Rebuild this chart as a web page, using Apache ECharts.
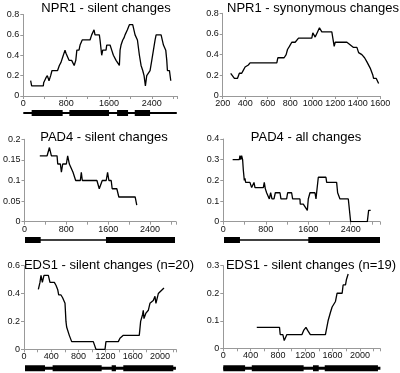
<!DOCTYPE html>
<html>
<head>
<meta charset="utf-8">
<script src="https://cdn.jsdelivr.net/npm/echarts@6/dist/echarts.min.js"></script>
<style>
  html, body { margin: 0; padding: 0; background: #fff; }
  #chart { width: 400px; height: 373px; }
</style>
</head>
<body>
<div id="chart"></div>
<script>
// sliding-window values
var npr1SilentX = [137,156,374,380,424,449,480,511,536,640,673,704,735,779,797,854,903,950,980,1000,1040,1060,1100,1246,1277,1321,1339,1420,1433,1464,1483,1545,1558,1620,1651,1682,1732,1794,1807,1825,1857,1880,1900,1944,1981,2043,2087,2131,2168,2199,2230,2255,2280,2305,2367,2399,2430,2461,2480,2573,2617,2660,2679,2691,2729,2754];
var npr1SilentY = [0.15,0.10,0.10,0.13,0.18,0.20,0.15,0.20,0.25,0.25,0.30,0.33,0.38,0.45,0.42,0.35,0.35,0.30,0.35,0.45,0.45,0.50,0.55,0.55,0.60,0.65,0.60,0.60,0.55,0.40,0.45,0.45,0.50,0.50,0.45,0.40,0.35,0.30,0.45,0.50,0.55,0.57,0.60,0.65,0.70,0.70,0.60,0.55,0.40,0.30,0.25,0.20,0.10,0.20,0.25,0.35,0.45,0.55,0.60,0.60,0.50,0.45,0.35,0.25,0.25,0.15];

var npr1SynX = [271,304,331,348,369,384,399,428,443,681,690,746,764,776,793,814,844,874,992,1001,1022,1043,1060,1081,1170,1179,1191,1200,1304,1363,1393,1408,1437,1461,1482,1511,1535,1541,1565,1586];
var npr1SynY = [0.22,0.17,0.17,0.22,0.22,0.25,0.28,0.30,0.32,0.32,0.37,0.37,0.40,0.45,0.48,0.52,0.52,0.56,0.56,0.61,0.57,0.62,0.66,0.62,0.62,0.56,0.48,0.52,0.52,0.47,0.47,0.42,0.40,0.37,0.33,0.27,0.20,0.17,0.17,0.12];

var pad4SilentX = [292,432,476,514,622,635,686,705,730,800,825,857,895,927,952,978,1067,1086,1105,1384,1429,1467,1486,1562,1588,1613,1657,1676,1765,1803,2115,2146];
var pad4SilentY = [0.16,0.16,0.18,0.16,0.16,0.14,0.14,0.12,0.14,0.14,0.16,0.14,0.14,0.12,0.12,0.10,0.10,0.12,0.10,0.10,0.08,0.08,0.10,0.10,0.12,0.10,0.10,0.08,0.08,0.06,0.06,0.04];

var pad4AllX = [176,301,314,330,345,364,377,396,408,421,502,534,565,578,597,754,772,791,816,848,867,892,917,955,980,1068,1086,1193,1212,1287,1306,1444,1450,1507,1583,1601,1633,1727,1746,1758,1790,1934,1947,2135,2154,2198,2355,2399,2713,2738,2776];
var pad4AllY = [0.30,0.30,0.32,0.30,0.32,0.30,0.25,0.20,0.21,0.19,0.19,0.165,0.165,0.19,0.165,0.165,0.19,0.16,0.14,0.14,0.11,0.14,0.11,0.11,0.14,0.14,0.11,0.11,0.14,0.14,0.11,0.11,0.085,0.085,0.055,0.11,0.14,0.14,0.11,0.14,0.215,0.215,0.19,0.19,0.14,0.11,0.11,0,0,0.055,0.055];

var eds1n20X = [211,235,250,270,294,358,382,446,470,495,510,544,568,603,617,627,652,666,701,1019,1058,1191,1205,1387,1411,1460,1695,1715,1744,1754,1764,1793,1828,1852,1901,1926,1940,1975,2058];
var eds1n20Y = [0.43,0.48,0.53,0.48,0.53,0.53,0.48,0.48,0.46,0.43,0.39,0.39,0.37,0.33,0.20,0.16,0.15,0.10,0.055,0.055,0,0,0.055,0.055,0.08,0.10,0.10,0.20,0.25,0.28,0.22,0.26,0.28,0.33,0.35,0.38,0.33,0.40,0.44];

var eds1n19X = [490,823,833,872,892,921,931,1152,1176,1210,1235,1274,1495,1534,1568,1593,1617,1642,1666,1740,1754,1789,1803,1828];
var eds1n19Y = [0.076,0.076,0.05,0.05,0.028,0.028,0.05,0.05,0.065,0.076,0.065,0.05,0.05,0.10,0.13,0.15,0.15,0.17,0.20,0.20,0.23,0.23,0.25,0.27];

// gene models: exon [start, end] and the full span
var npr1Exons = [[156,735],[860,1601],[1751,1956],[2081,2367]];
var npr1Span = [0, 2866];
var pad4ExonsA = [[19,318],[1562,2877]];
var pad4SpanA = [19, 2877];
var pad4ExonsB = [[13,314],[1601,2952]];
var pad4SpanB = [13, 2952];
var eds1ExonsA = [[15,309],[421,1142],[1289,1352],[1460,2195]];
var eds1SpanA = [15, 2234];
var eds1ExonsB = [[0,319],[417,1176],[1313,1397],[1485,2264]];
var eds1SpanB = [0, 2300];

var titles = ["NPR1 - silent changes", "NPR1 - synonymous changes", "PAD4 - silent changes",
  "PAD4 - all changes", "EDS1 - silent changes (n=20)", "EDS1 - silent changes (n=19)"];

var FONT = '"Liberation Sans", Arial, sans-serif';
var chart = echarts.init(document.getElementById("chart"));

function pairs(xs, ys) {
  return xs.map(function (x, i) { return [x, ys[i]]; });
}

// plot boxes: left, top, width, height, x range, x tick step, label step, y max, y step
var panels = [
  { l: 23.3, t: 14.5, w: 153.7, h: 81.5, xmin: 0, xmax: 2870, xi: 400, li: 800, ymax: 0.8, yi: 0.2, data: pairs(npr1SilentX, npr1SilentY), title: [106, 8], gene: [npr1Exons, npr1Span, 113, 2] },
  { l: 222.7, t: 13.3, w: 157.5, h: 82.7, xmin: 200, xmax: 1600, xi: 200, li: 200, ymax: 0.8, yi: 0.2, data: pairs(npr1SynX, npr1SynY), title: [313, 8] },
  { l: 24, t: 139.3, w: 152, h: 82.4, xmin: 0, xmax: 2896, xi: 400, li: 800, ymax: 0.2, yi: 0.05, data: pairs(pad4SilentX, pad4SilentY), title: [104, 137], gene: [pad4ExonsA, pad4SpanA, 240, 1.5] },
  { l: 223.3, t: 139, w: 156.7, h: 82.7, xmin: 0, xmax: 2952, xi: 400, li: 800, ymax: 0.4, yi: 0.1, data: pairs(pad4AllX, pad4AllY), title: [306, 137], gene: [pad4ExonsB, pad4SpanB, 240, 1.5] },
  { l: 24, t: 265.7, w: 152, h: 83.6, xmin: 0, xmax: 2235, xi: 200, li: 400, ymax: 0.6, yi: 0.2, data: pairs(eds1n20X, eds1n20Y), title: [109, 265], gene: [eds1ExonsA, eds1SpanA, 368.5, 3] },
  { l: 223.3, t: 265.7, w: 156.7, h: 82.6, xmin: 0, xmax: 2294, xi: 200, li: 400, ymax: 0.3, yi: 0.1, data: pairs(eds1n19X, eds1n19Y), title: [311, 265], gene: [eds1ExonsB, eds1SpanB, 368.5, 3] }
];

var grid = [], xAxis = [], yAxis = [], series = [], graphic = [];
var axisColor = "#999";

panels.forEach(function (p, i) {
  var gi = grid.length;
  grid.push({ left: p.l, top: p.t, width: p.w, height: p.h });
  xAxis.push({
    type: "value", gridIndex: gi, min: p.xmin, max: p.xmax, interval: p.xi,
    splitLine: { show: false },
    axisLine: { lineStyle: { color: axisColor } },
    axisTick: { length: 3, lineStyle: { color: axisColor } },
    axisLabel: {
      margin: 3, fontSize: 9, fontFamily: FONT, color: "#111",
      formatter: function (v) { return (v % p.li === 0) ? String(v) : ""; }
    }
  });
  yAxis.push({
    type: "value", gridIndex: gi, min: 0, max: p.ymax, interval: p.yi,
    splitLine: { show: false },
    axisLine: { show: true, lineStyle: { color: axisColor } },
    axisTick: { show: true, length: 3, lineStyle: { color: axisColor } },
    axisLabel: { margin: 4, fontSize: 9, fontFamily: FONT, color: "#111" }
  });
  series.push({
    type: "line", xAxisIndex: gi, yAxisIndex: gi, data: p.data,
    showSymbol: false, symbol: "none", animation: false,
    lineStyle: { color: "#000", width: 1.3 }
  });
  graphic.push({
    type: "text", x: p.title[0], y: p.title[1],
    style: { text: titles[i], fill: "#000", font: "13px " + FONT, align: "center", verticalAlign: "middle" }
  });

  if (p.gene) {
    var exons = p.gene[0], span = p.gene[1], cy = p.gene[2], thin = p.gene[3];
    var gg = grid.length;
    grid.push({ left: p.l, top: cy - 5, width: p.w, height: 10 });
    xAxis.push({ type: "value", gridIndex: gg, min: p.xmin, max: p.xmax, show: false });
    yAxis.push({ type: "value", gridIndex: gg, min: 0, max: 1, show: false });
    var bar = function (hgt) {
      return function (params, api) {
        var a = api.coord([api.value(0), 0.5]);
        var b = api.coord([api.value(1), 0.5]);
        return { type: "rect", shape: { x: a[0], y: a[1] - hgt / 2, width: b[0] - a[0], height: hgt }, style: { fill: "#000" } };
      };
    };
    series.push({ type: "custom", xAxisIndex: gg, yAxisIndex: gg, data: [span], renderItem: bar(thin), animation: false });
    series.push({ type: "custom", xAxisIndex: gg, yAxisIndex: gg, data: exons, renderItem: bar(6), animation: false });
  }
});

chart.setOption({
  animation: false,
  grid: grid,
  xAxis: xAxis,
  yAxis: yAxis,
  series: series,
  graphic: graphic
});
</script>
</body>
</html>
